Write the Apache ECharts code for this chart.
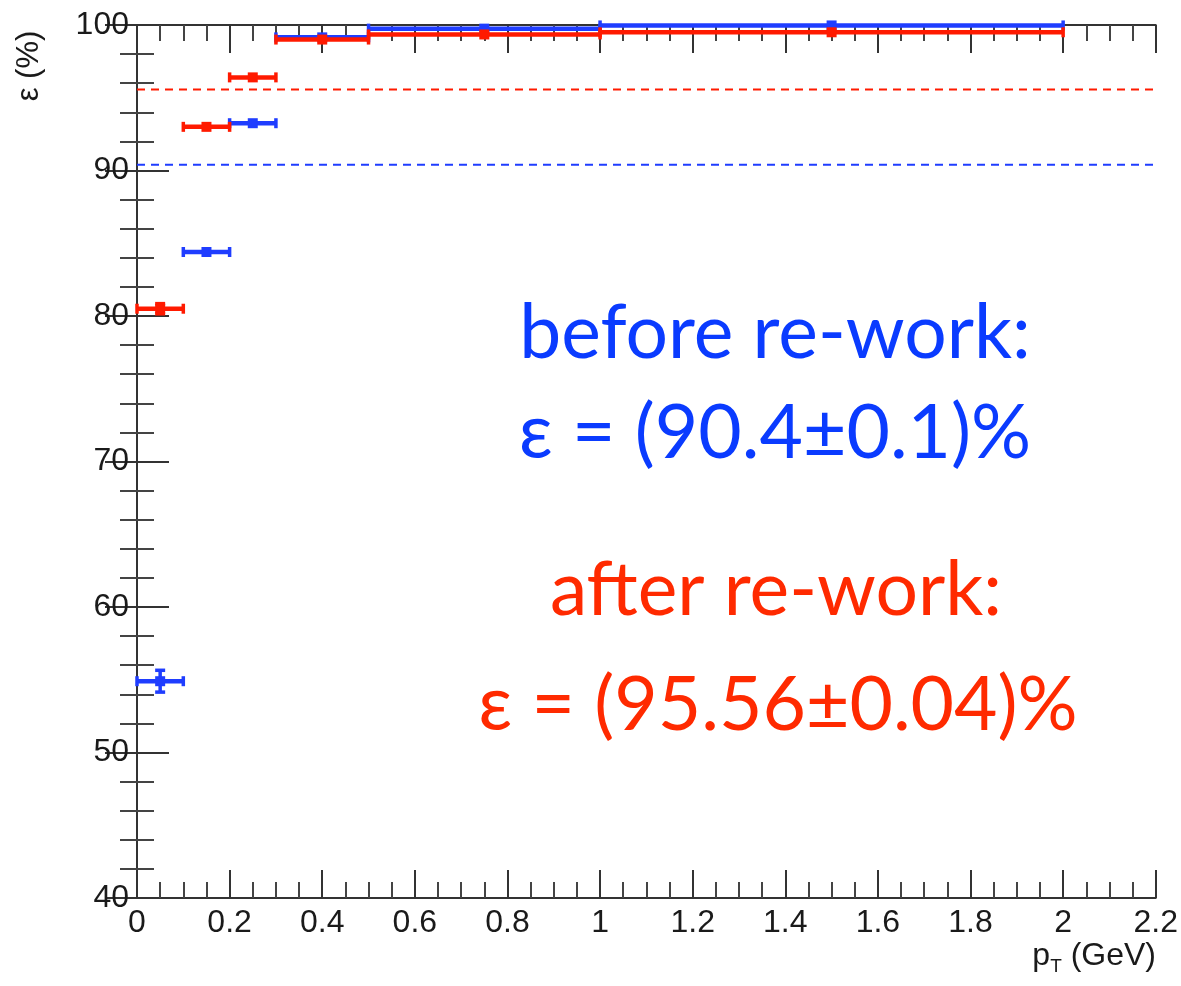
<!DOCTYPE html>
<html>
<head>
<meta charset="utf-8">
<script src="https://cdn.jsdelivr.net/npm/echarts@6/dist/echarts.min.js"></script>
<style>html,body{margin:0;padding:0;background:#fff;}#c{width:1181px;height:986px;}</style>
</head>
<body>
<div id="c"></div>
<script>
// ---- data ----
const binLo = [0, 0.1, 0.2, 0.3, 0.5, 1.0];
const binHi = [0.1, 0.2, 0.3, 0.5, 1.0, 2.0];
const effBefore = [54.9, 84.4, 93.25, 99.15, 99.75, 99.97];
const errBefore = [0.75, 0.3, 0.25, 0.1, 0.05, 0.02];
const effAfter = [80.5, 93.0, 96.4, 99.0, 99.35, 99.5];
const errAfter = [0.35, 0.15, 0.12, 0.05, 0.03, 0.02];
const meanBefore = 90.4;
const meanAfter = 95.56;
const xRange = [0, 2.2];
const yRange = [40, 100];
const textBefore = ['before re-work:', 'ε = (90.4±0.1)%'];
const textAfter = ['after re-work:', 'ε = (95.56±0.04)%'];

const BLUE = '#1f3dff';
const RED = '#ff1a00';

function binData(vals, errs) {
  return binLo.map((lo, i) => [lo, binHi[i], vals[i], errs[i]]);
}

function renderBin(color) {
  return function (params, api) {
    const lo = api.value(0), hi = api.value(1), y = api.value(2), e = api.value(3);
    const pL = api.coord([lo, y]);
    const pR = api.coord([hi, y]);
    const mid = api.coord([(lo + hi) / 2, y]);
    const pT = api.coord([(lo + hi) / 2, y + e]);
    const pB = api.coord([(lo + hi) / 2, y - e]);
    const st = { stroke: color, lineWidth: 4.5 };
    const cap = { stroke: color, lineWidth: 3.5 };
    const children = [
      { type: 'line', shape: { x1: pL[0], y1: pL[1], x2: pR[0], y2: pR[1] }, style: st },
      { type: 'line', shape: { x1: pL[0], y1: pL[1] - 5, x2: pL[0], y2: pL[1] + 5 }, style: cap },
      { type: 'line', shape: { x1: pR[0], y1: pR[1] - 5, x2: pR[0], y2: pR[1] + 5 }, style: cap },
      { type: 'line', shape: { x1: pT[0], y1: pT[1], x2: pB[0], y2: pB[1] }, style: cap },
      { type: 'rect', shape: { x: mid[0] - 5, y: mid[1] - 5, width: 10, height: 10 }, style: { fill: color } }
    ];
    if (Math.abs(pT[1] - pB[1]) > 10) {
      children.push({ type: 'line', shape: { x1: pT[0] - 5, y1: pT[1], x2: pT[0] + 5, y2: pT[1] }, style: cap });
      children.push({ type: 'line', shape: { x1: pB[0] - 5, y1: pB[1], x2: pB[0] + 5, y2: pB[1] }, style: cap });
    }
    return { type: 'group', children: children };
  };
}

const axisFont = { fontFamily: 'Liberation Sans', fontSize: 32, color: '#1a1a1a' };
const axLine = { show: true, lineStyle: { color: '#333', width: 2 } };

const chart = echarts.init(document.getElementById('c'), null, { renderer: 'canvas' });
chart.setOption({
  backgroundColor: '#fff',
  animation: false,
  grid: { left: 137, right: 24, top: 25, bottom: 88 },
  xAxis: [
    {
      type: 'value', min: xRange[0], max: xRange[1], interval: 0.2,
      axisLine: axLine,
      axisTick: { inside: true, length: 28, lineStyle: { color: '#333', width: 2 } },
      minorTick: { show: true, splitNumber: 4, length: 16, lineStyle: { color: '#444', width: 2 } },
      splitLine: { show: false },
      axisLabel: Object.assign({ margin: 9 }, axisFont)
    },
    {
      type: 'value', position: 'top', min: xRange[0], max: xRange[1], interval: 0.2,
      axisLine: axLine,
      axisTick: { inside: true, length: 28, lineStyle: { color: '#333', width: 2 } },
      minorTick: { show: true, splitNumber: 4, length: 16, lineStyle: { color: '#444', width: 2 } },
      splitLine: { show: false },
      axisLabel: { show: false }
    }
  ],
  yAxis: [
    {
      type: 'value', min: yRange[0], max: yRange[1], interval: 10,
      axisLine: axLine,
      axisTick: { inside: true, length: 32, lineStyle: { color: '#333', width: 2 } },
      minorTick: { show: true, splitNumber: 5, length: 17, lineStyle: { color: '#444', width: 2 } },
      splitLine: { show: false },
      axisLabel: Object.assign({ margin: 8 }, axisFont)
    },
    {
      type: 'value', position: 'right', min: yRange[0], max: yRange[1], interval: 10,
      axisLine: axLine,
      axisTick: { inside: true, length: 32, lineStyle: { color: '#333', width: 2 } },
      minorTick: { show: true, splitNumber: 5, length: 17, lineStyle: { color: '#444', width: 2 } },
      splitLine: { show: false },
      axisLabel: { show: false }
    }
  ],
  series: [
    {
      name: 'mean before', type: 'line', symbol: 'none', silent: true,
      data: [[xRange[0], meanBefore], [xRange[1], meanBefore]],
      lineStyle: { color: BLUE, width: 2, type: [8, 6] }
    },
    {
      name: 'mean after', type: 'line', symbol: 'none', silent: true,
      data: [[xRange[0], meanAfter], [xRange[1], meanAfter]],
      lineStyle: { color: RED, width: 2, type: [8, 6] }
    },
    {
      name: 'before re-work', type: 'custom', renderItem: renderBin(BLUE),
      encode: { x: [0, 1], y: [2] }, data: binData(effBefore, errBefore), z: 3
    },
    {
      name: 'after re-work', type: 'custom', renderItem: renderBin(RED),
      encode: { x: [0, 1], y: [2] }, data: binData(effAfter, errAfter), z: 4
    }
  ],
  graphic: [
    { type: 'text', x: 29, y: 66, rotation: Math.PI / 2,
      style: { text: 'ε (%)', font: '31px "Liberation Sans"', fill: '#1a1a1a', align: 'center', verticalAlign: 'middle' } },
    { type: 'text', x: 1156, y: 956,
      style: { text: '{p|p}{s|T}{p| (GeV)}', align: 'right', verticalAlign: 'middle',
        rich: { p: { fontFamily: 'Liberation Sans', fontSize: 32, fill: '#1a1a1a' },
                s: { fontFamily: 'Liberation Sans', fontSize: 19, fill: '#1a1a1a', padding: [22, 0, 0, 0] } } } },
    { type: 'text', x: 775, y: 334,
      style: { text: textBefore[0], font: '75px Lato', fill: '#0a3bff', align: 'center', verticalAlign: 'middle' } },
    { type: 'text', x: 775, y: 434,
      style: { text: textBefore[1], font: '75px Lato', fill: '#0a3bff', align: 'center', verticalAlign: 'middle' } },
    { type: 'text', x: 776, y: 591,
      style: { text: textAfter[0], font: '75px Lato', fill: '#ff2a00', align: 'center', verticalAlign: 'middle' } },
    { type: 'text', x: 778, y: 706,
      style: { text: textAfter[1], font: '75px Lato', fill: '#ff2a00', align: 'center', verticalAlign: 'middle' } }
  ]
});
</script>
</body>
</html>
